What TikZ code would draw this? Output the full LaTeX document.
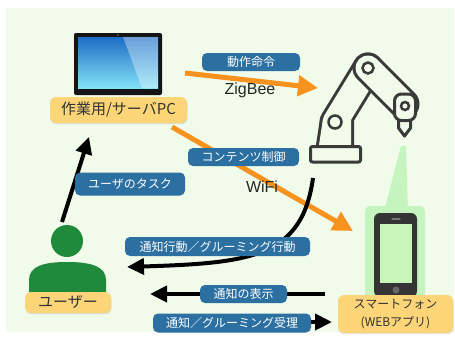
\documentclass[tikz,border=0pt]{standalone}
\usepackage{fontspec}
\setmainfont{Noto Sans CJK JP}
\newfontfamily\latinsans{Liberation Sans}
\usetikzlibrary{arrows.meta,shadows}

\definecolor{bgcol}{RGB}{241,251,234}
\definecolor{tagblue}{RGB}{44,111,161}
\definecolor{tagyellow}{RGB}{252,213,121}
\definecolor{flow}{RGB}{247,146,30}
\definecolor{usergreen}{RGB}{31,137,60}
\definecolor{halo}{RGB}{198,244,190}
\definecolor{armgray}{RGB}{58,58,58}
\definecolor{inkgray}{RGB}{50,50,50}
\definecolor{scrtop}{RGB}{30,108,198}
\definecolor{scrbot}{RGB}{132,226,246}
\definecolor{phonebody}{RGB}{52,52,52}
\definecolor{phonescreen}{RGB}{200,246,184}

\tikzset{
  tag/.style={fill=tagblue, text=white, rounded corners=5pt, inner sep=0pt,
    font=\fontsize{12}{14}\selectfont},
  plate/.style={fill=tagyellow, text=inkgray, rounded corners=6pt, inner sep=0pt,
    drop shadow={shadow xshift=0.6pt, shadow yshift=-1.2pt, opacity=0.22}},
  link/.style={line width=4pt, -{Triangle[length=17pt,width=16pt]}},
  radio/.style={draw=flow, line width=5pt, -{Triangle[length=20pt,width=20pt]}},
  armline/.style={draw=armgray, line width=3pt, line join=round, fill=bgcol},
  proto/.style={font=\latinsans\fontsize{16}{18}\selectfont, text=black!85, inner sep=0pt},
}

\begin{document}
\begin{tikzpicture}[x=1pt,y=-1pt]
\useasboundingbox (0,0) rectangle (455,338);
\fill[white] (0,0) rectangle (455,338);
\fill[bgcol] (6,8) rectangle (454,332);

% connection ends
\coordinate (pcE) at (185,73);
\coordinate (armW) at (318,88);
\coordinate (pcSE) at (172,127);
\coordinate (phoneNW) at (353,231);
\coordinate (armFoot) at (313,178);
\coordinate (userL) at (127,267);
\coordinate (userTop) at (62,222);
\coordinate (pcBottom) at (89,137);
\coordinate (phoneW) at (325,294);
\coordinate (userR) at (150,294);
\coordinate (sendStart) at (240,322);
\coordinate (phoneIn) at (332,322);

% light cone from the arm to the phone
\fill[halo] (401,146) -- (406,146) -- (408,212) -- (384,212) -- cycle;
\fill[halo, rounded corners=5pt] (365,206) rectangle (425,302);

% laptop
\fill[black!92, rounded corners=2pt] (74,33) rectangle (162,95);
\shade[top color=scrtop, bottom color=scrbot] (78,37) rectangle (158,88);
\fill[white, opacity=0.35] (123,37) -- (158,37) -- (158,88) -- (142,88) -- cycle;
\fill[black!55] (118,35) circle (0.8);

% smartphone
\fill[phonebody, rounded corners=6pt] (374,213) rectangle (417,297);
\fill[phonescreen] (380,224) rectangle (412,283);
\draw[black!55, line width=1.2pt, line cap=round] (392,219) -- (400,219);
\fill[black!60] (396,290) circle (3.5);

% robot arm: lower link and pedestal
\draw[armgray, line width=31pt, line cap=round] (335,122) -- (368,68);
\draw[armgray, line width=6pt, line join=round, fill=armgray]
  (319,145) -- (351,145) -- (351,115) -- (335,110) -- (322.5,122) -- cycle;
\draw[bgcol, line width=25pt, line cap=round] (335,122) -- (368,68);
\fill[bgcol] (319,145) -- (351,145) -- (351,115) -- (335,110) -- (322.5,122) -- cycle;
\draw[armline, rounded corners=2pt] (310.5,146.5) rectangle (360.5,162);
% upper link
\draw[armgray, line width=31pt, line cap=round] (368,68) -- (404,104);
\draw[bgcol, line width=25pt, line cap=round] (368,68) -- (404,104);
% tool head and nozzle
\draw[armline] (398.5,120.5) -- (398.5,128) -- (404.5,136) -- (410.5,128) -- (410.5,120.5);
\draw[armline, rounded corners=7pt] (394.5,120.5) rectangle (415.5,94);
% joints
\draw[armgray, line width=2.5pt] (335,122) circle (6.5);
\draw[armgray, line width=2.5pt] (368,68) circle (5.5);
\draw[armgray, line width=2.5pt] (405,106) circle (4);

% user
\fill[usergreen] (67,241) circle (16);
\fill[usergreen] (29,294) -- (29,280) .. controls (29,266) and (44,262) .. (67,262)
  .. controls (90,262) and (106,266) .. (106,280) -- (106,294) -- cycle;

% connectors
\draw[radio] (pcE) -- (armW);
\draw[radio] (pcSE) -- (phoneNW);
\draw[link] (armFoot) .. controls (302,258) and (250,263) .. (userL);
\draw[link] (userTop) -- (pcBottom);
\draw[link] (phoneW) -- (userR);
\draw[link] (sendStart) -- (phoneIn);

% labels on the connectors
\node[tag, minimum width=98pt, minimum height=18pt] (cmd) at (251,62) {動作命令};
\node[tag, minimum width=111pt, minimum height=18pt] (ctl) at (243.5,157) {コンテンツ制御};
\node[tag, minimum width=110pt, minimum height=23pt] (task) at (130,184) {ユーザのタスク};
\node[tag, minimum width=185pt, minimum height=19pt] (act) at (217.5,246.5) {通知行動／グルーミング行動};
\node[tag, minimum width=87pt, minimum height=18pt] (show) at (243.5,294) {通知の表示};
\node[tag, minimum width=158pt, minimum height=19pt] (accept) at (232,323) {通知／グルーミング受理};

\node[proto] (zig) at (250,90) {ZigBee};
\node[proto] (wifi) at (262,187) {WiFi};

% device names
\node[plate, minimum width=137pt, minimum height=26pt, font=\fontsize{15}{17}\selectfont] (pc) at (118.5,110) {作業用/サーバPC};
\node[plate, minimum width=86pt, minimum height=21pt, font=\fontsize{15}{17}\selectfont] (user) at (68,302.5) {ユーザー};
\node[plate, minimum width=115pt, minimum height=38pt, align=center, font=\fontsize{12}{18}\selectfont] (phone) at (395.5,314) {スマートフォン\\(WEBアプリ)};
\end{tikzpicture}
\end{document}
